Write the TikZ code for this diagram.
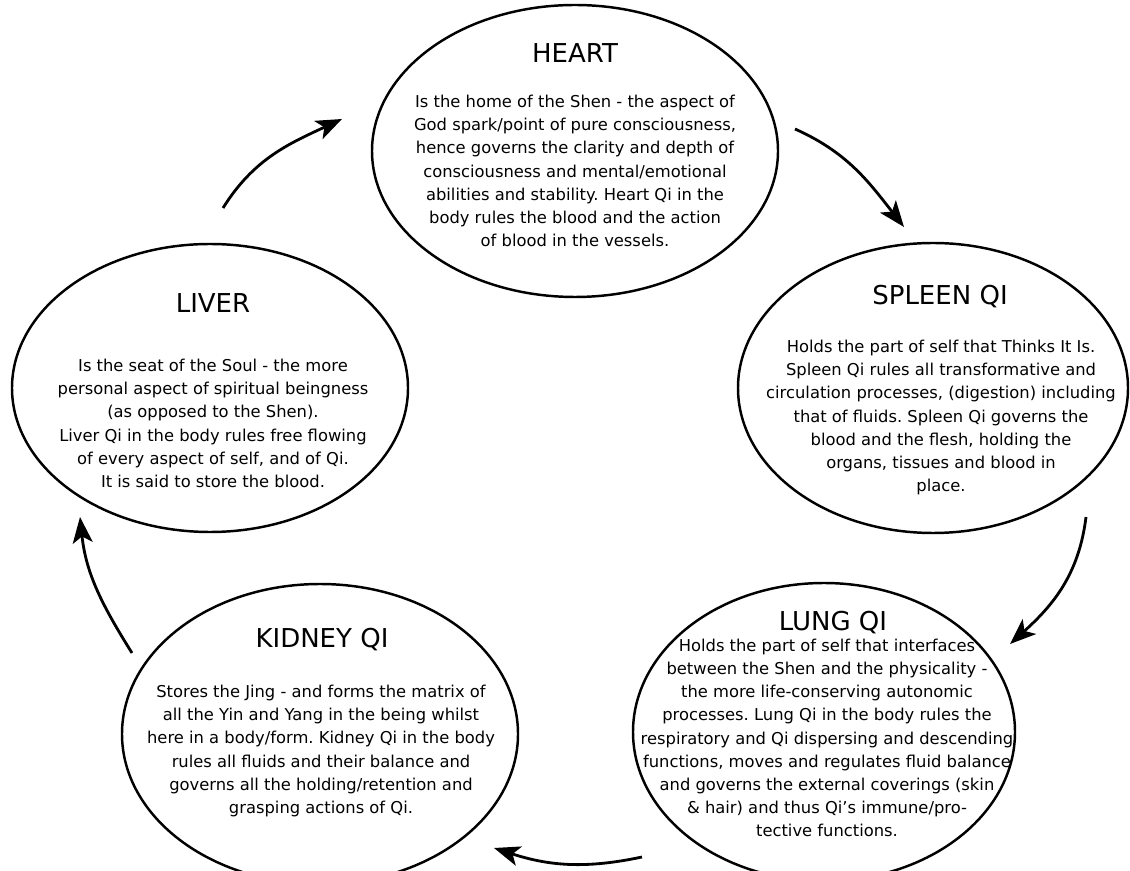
\documentclass[tikz,border=0pt]{standalone}
\usepackage{fontspec}
\setmainfont{DejaVu Sans}
\usepackage{tikz}
\usetikzlibrary{arrows.meta,shapes.geometric}
\frenchspacing

\begin{document}
\begin{tikzpicture}
[organ/.style={draw,ellipse,line width=1.4pt,inner sep=0pt},
 title/.style={inner sep=0pt,font=\fontsize{14.8}{17}\selectfont},
 body/.style={inner sep=0pt,align=center,font=\fontsize{9.3}{13.2}\selectfont},
 flow/.style={->,line width=1.6pt},
 >={Stealth[length=0.52cm,width=0.4cm,inset=0.13cm]}]
\useasboundingbox (0,0) rectangle (22.6,17.4);
% the five organs
\node[organ,minimum width=8.12cm,minimum height=5.84cm] (heart) at (11.5,14.38) {};
\node[organ,minimum width=7.8cm,minimum height=5.8cm] (spleen) at (18.66,9.64) {};
\node[organ,minimum width=7.64cm,minimum height=5.96cm] (lung) at (16.48,2.76) {};
\node[organ,minimum width=7.92cm,minimum height=6cm] (kidney) at (6.4,2.72) {};
\node[organ,minimum width=7.92cm,minimum height=5.76cm] (liver) at (4.2,9.64) {};

\node[title] (hearttitle) at (11.5,16.34) {HEART};
\node[body] (heartbody) at (11.5,13.98) {Is the home of the Shen - the aspect of\\
	God spark/point of pure consciousness,\\
	hence governs the clarity and depth of\\
	consciousness and mental/emotional\\
	abilities and stability. Heart Qi in the\\
	body rules the blood and the action\\
	of blood in the vessels.};

\node[title] (spleentitle) at (18.8,11.46) {SPLEEN QI};
\node[body] (spleenbody) at (18.82,9.05) {Holds the part of self that Thinks It Is.\\
	Spleen Qi rules all transformative and\\
	circulation processes, (digestion) including\\
	that of fluids. Spleen Qi governs the\\
	blood and the flesh, holding the\\
	organs, tissues and blood in\\
	place.};

\node[title] (lungtitle) at (16.66,4.95) {LUNG QI};
\node[body] (lungbody) at (16.54,2.64) {Holds the part of self that interfaces\\
	between the Shen and the physicality -\\
	the more life-conserving autonomic\\
	processes. Lung Qi in the body rules the\\
	respiratory and Qi dispersing and descending\\
	functions, moves and regulates fluid balance\\
	and governs the external coverings (skin\\
	\& hair) and thus Qi’s immune/pro-\\
	tective functions.};

\node[title] (kidneytitle) at (6.44,4.6) {KIDNEY QI};
\node[body] (kidneybody) at (6.42,2.38) {Stores the Jing - and forms the matrix of\\
	all the Yin and Yang in the being whilst\\
	here in a body/form. Kidney Qi in the body\\
	rules all fluids and their balance and\\
	governs all the holding/retention and\\
	grasping actions of Qi.};

\node[title] (livertitle) at (4.26,11.34) {LIVER};
\node[body] (liverbody) at (4.26,8.93) {Is the seat of the Soul - the more\\
	personal aspect of spiritual beingness\\
	(as opposed to the Shen).\\
	Liver Qi in the body rules free flowing\\
	of every aspect of self, and of Qi.\\
	It is said to store the blood.};

% arrow ends, just off the ellipses
\coordinate (liverout) at (4.46,13.24);
\coordinate (heartin) at (6.84,15.02);
\coordinate (heartout) at (15.9,14.82);
\coordinate (spleenin) at (18.08,12.86);
\coordinate (spleenout) at (21.72,7.06);
\coordinate (lungin) at (20.2,4.52);
\coordinate (lungout) at (12.84,0.26);
\coordinate (kidneyin) at (9.88,0.44);
\coordinate (kidneyout) at (2.64,4.34);
\coordinate (liverin) at (1.6,7.06);

\draw[flow] (liverout) to[out=58,in=205] (heartin);
\draw[flow] (heartout) to[out=-24,in=128] (spleenin);
\draw[flow] (spleenout) to[out=-97,in=42] (lungin);
\draw[flow] (lungout) to[out=192,in=-18] (kidneyin);
\draw[flow] (kidneyout) to[out=122,in=-84] (liverin);
%% \draw[flow] (kidneyout) .. controls (1.6,5.4) .. (liverin);
\end{tikzpicture}
\end{document}
